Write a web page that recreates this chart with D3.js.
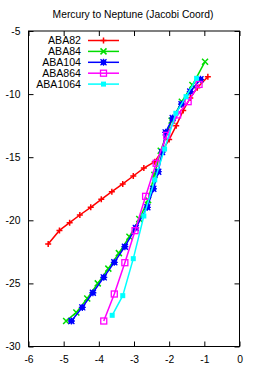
<!DOCTYPE html>
<html>
<head>
<meta charset="utf-8">
<script src="https://cdn.jsdelivr.net/npm/d3@7"></script>
<style>
body { margin: 0; background: #fff; }
text { font-family: "Liberation Sans", Arial, sans-serif; }
</style>
</head>
<body>
<div id="container"><svg></svg></div>
<script>
let width = 266, height = 369;
let margin = {left: 28.5, right: 26.5, top: 31, bottom: 22.5};

// data
let names = ["ABA82", "ABA84", "ABA104", "ABA864", "ABA1064"];
let colors = ["#ff0000", "#00dd00", "#0000ff", "#ff00ff", "#00ffff"];
let aba82_x = [-5.44, -5.12, -4.83, -4.54, -4.23, -3.93, -3.63, -3.32, -3.02, -2.72, -2.41, -2.2, -2.0, -1.8, -1.6, -1.4, -1.2, -0.9];
let aba82_y = [-21.87, -20.8, -20.19, -19.58, -18.97, -18.34, -17.73, -17.12, -16.49, -15.86, -15.36, -14.5, -13.6, -12.5, -11.3, -10.3, -9.5, -8.62];
let aba84_x = [-4.93, -4.64, -4.33, -4.03, -3.73, -3.43, -3.13, -2.85, -2.6, -2.42, -2.24, -1.93, -1.64, -1.34, -0.98];
let aba84_y = [-27.98, -27.3, -26.2, -25.0, -23.83, -22.6, -21.3, -19.9, -18.4, -16.4, -14.49, -12.1, -10.6, -9.28, -7.43];
let aba104_x = [-4.78, -4.47, -4.17, -3.86, -3.56, -3.26, -2.95, -2.62, -2.45, -2.31, -2.2, -2.1, -1.9, -1.65, -1.4, -1.11];
let aba104_y = [-27.98, -26.9, -25.74, -24.52, -23.33, -22.09, -20.6, -18.97, -17.5, -16.15, -14.6, -13.03, -11.9, -10.8, -9.8, -8.83];
let aba864_x = [-3.86, -3.56, -3.26, -2.97, -2.67, -2.37, -2.07, -1.76, -1.46, -1.15];
let aba864_y = [-27.98, -25.84, -23.36, -20.82, -18.1, -15.48, -13.27, -11.65, -10.6, -9.23];
let aba1064_x = [-3.62, -3.32, -3.02, -2.72, -2.41, -2.13, -1.81, -1.52, -1.22];
let aba1064_y = [-27.53, -25.97, -23.04, -19.66, -16.8, -14.35, -11.52, -10.2, -8.75];
let xs = [aba82_x, aba84_x, aba104_x, aba864_x, aba1064_x];
let ys = [aba82_y, aba84_y, aba104_y, aba864_y, aba1064_y];
let xticks = [-6, -5, -4, -3, -2, -1, 0];
let yticks = [-5, -10, -15, -20, -25, -30];

let svg = d3.select("#container").select("svg")
    .attr("width", width)
    .attr("height", height);

let x = d3.scaleLinear().domain([-6, 0]).range([margin.left, width - margin.right]);
let y = d3.scaleLinear().domain([-30, -5]).range([height - margin.bottom, margin.top]);

// title
svg.append("text")
    .attr("x", (x(-6) + x(0)) / 2 - 1)
    .attr("y", 18)
    .attr("text-anchor", "middle")
    .attr("font-size", 10.3)
    .text("Mercury to Neptune (Jacobi Coord)");

// axes, ticks inward on all four sides
let tl = 5;
let fmt = d => String(d);
svg.append("g").attr("transform", `translate(0,${y(-30)})`)
    .call(d3.axisBottom(x).tickValues(xticks).tickSize(-tl).tickPadding(tl + 4).tickFormat(fmt))
    .call(g => g.select(".domain").remove());
svg.append("g").attr("transform", `translate(0,${y(-5)})`)
    .call(d3.axisTop(x).tickValues(xticks).tickSize(-tl).tickFormat(""))
    .call(g => g.select(".domain").remove());
svg.append("g").attr("transform", `translate(${x(-6)},0)`)
    .call(d3.axisLeft(y).tickValues(yticks).tickSize(-tl).tickPadding(tl + 3).tickFormat(fmt))
    .call(g => g.select(".domain").remove());
svg.append("g").attr("transform", `translate(${x(0)},0)`)
    .call(d3.axisRight(y).tickValues(yticks).tickSize(-tl).tickFormat(""))
    .call(g => g.select(".domain").remove());
svg.selectAll(".tick text").attr("font-size", 10.3).attr("font-family", "Liberation Sans, Arial, sans-serif").attr("fill", "#000");
svg.selectAll(".tick line").attr("stroke", "#000");

svg.append("rect")
    .attr("x", x(-6)).attr("y", y(-5))
    .attr("width", x(0) - x(-6)).attr("height", y(-30) - y(-5))
    .attr("fill", "none").attr("stroke", "#000").attr("stroke-width", 1);

// point markers (gnuplot style: +, x, *, open square, filled square)
function marker(g, k, px, py, c) {
    let s = 3;
    if (k == 0) {
        g.append("path").attr("d", `M${px - s},${py}H${px + s}M${px},${py - s}V${py + s}`)
            .attr("stroke", c).attr("stroke-width", 1.5);
    } else if (k == 1) {
        g.append("path").attr("d", `M${px - s},${py - s}L${px + s},${py + s}M${px - s},${py + s}L${px + s},${py - s}`)
            .attr("stroke", c).attr("stroke-width", 1.5);
    } else if (k == 2) {
        g.append("rect").attr("x", px - 2.5).attr("y", py - 2.5).attr("width", 5).attr("height", 5)
            .attr("fill", c);
        g.append("path").attr("d", `M${px - s},${py - s}L${px + s},${py + s}M${px - s},${py + s}L${px + s},${py - s}M${px - s - 0.5},${py}H${px + s + 0.5}M${px},${py - s - 0.5}V${py + s + 0.5}`)
            .attr("stroke", c).attr("stroke-width", 1.3);
    } else if (k == 3) {
        g.append("rect").attr("x", px - 3).attr("y", py - 3).attr("width", 6).attr("height", 6)
            .attr("fill", "none").attr("stroke", c).attr("stroke-width", 1.3);
    } else {
        g.append("rect").attr("x", px - 2.5).attr("y", py - 2.5).attr("width", 5).attr("height", 5)
            .attr("fill", c);
    }
}

let line = d3.line().x(d => x(d[0])).y(d => y(d[1]));

for (let k = 0; k < names.length; k++) {
    let pts = xs[k].map((v, i) => [v, ys[k][i]]);
    let g = svg.append("g");
    g.append("path")
        .attr("d", line(pts))
        .attr("fill", "none")
        .attr("stroke", colors[k])
        .attr("stroke-width", 1.5);
    pts.forEach(p => marker(g, k, x(p[0]), y(p[1]), colors[k]));

    // legend entry
    let ly = 40.5 + k * 10.9;
    svg.append("text")
        .attr("x", 81).attr("y", ly + 3.7)
        .attr("text-anchor", "end")
        .attr("font-size", 10.6)
        .text(names[k]);
    svg.append("line")
        .attr("x1", 88).attr("x2", 119).attr("y1", ly).attr("y2", ly)
        .attr("stroke", colors[k]).attr("stroke-width", 1.5);
    marker(svg, k, 103.5, ly, colors[k]);
}
</script>
</body>
</html>
